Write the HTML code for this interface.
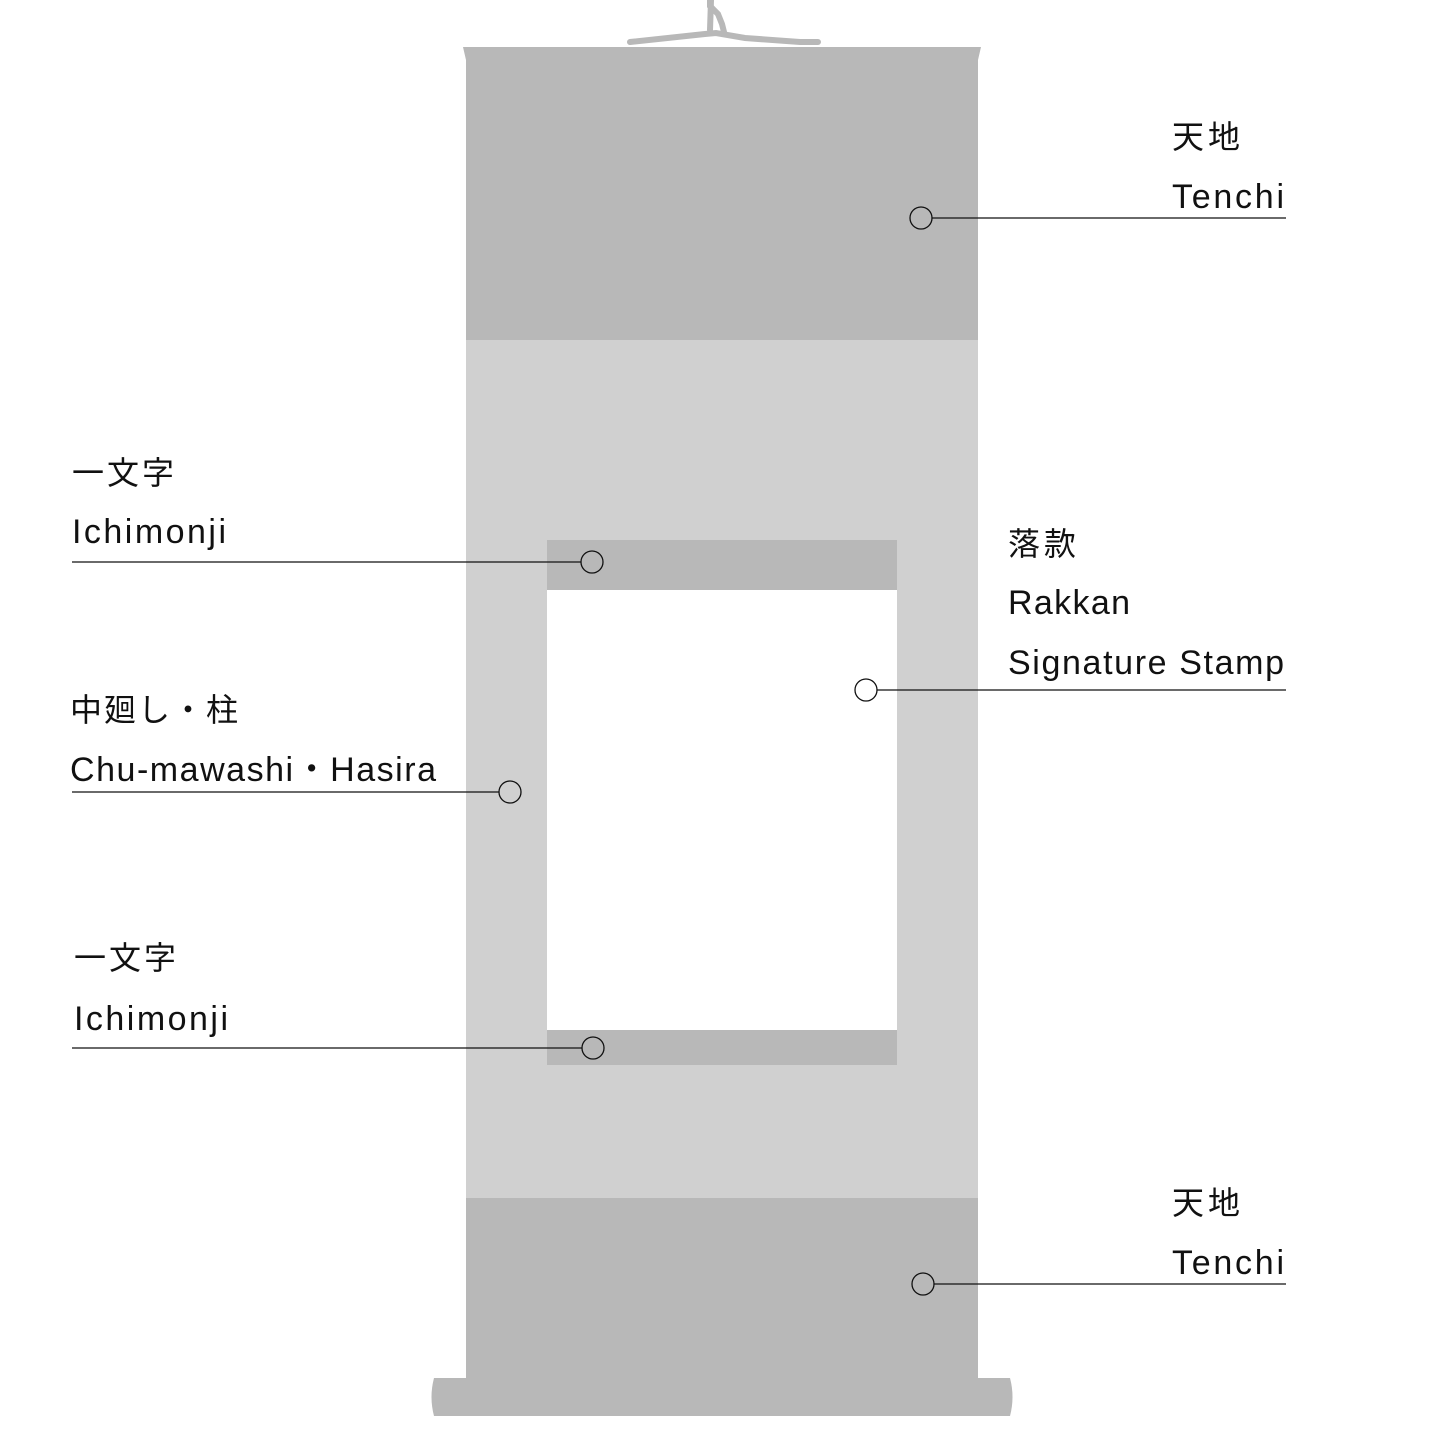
<!DOCTYPE html>
<html><head><meta charset="utf-8"><style>
html,body{margin:0;padding:0;background:#fff}
svg{display:block}
text{font-family:"Liberation Sans","Noto Sans CJK JP",sans-serif;fill:#111;font-size:34px}
.j{font-size:32px}
</style></head><body>
<svg width="1445" height="1445" viewBox="0 0 1445 1445">
<g fill="none" stroke="#b8b8b8" stroke-width="6" stroke-linecap="round">
<path d="M710 0 L710 6 L718 14 L722 24 L724 32"/>
<path d="M711 0 L710 30"/>
<path d="M630 42 L705 34 L716 33 L745 38 L800 42 L818 42"/>
</g>
<path d="M463 47 L981 47 L978 60 L978 340 L466 340 L466 60 Z" fill="#b8b8b8"/>
<rect x="466" y="340" width="512" height="858" fill="#d0d0d0"/>
<rect x="466" y="1198" width="512" height="182" fill="#b8b8b8"/>
<path d="M434 1378 L1010 1378 Q1015 1397 1010 1416 L434 1416 Q429 1397 434 1378 Z" fill="#b8b8b8"/>
<rect x="547" y="540" width="350" height="50" fill="#b8b8b8"/>
<rect x="547" y="590" width="350" height="440" fill="#fff"/>
<rect x="547" y="1030" width="350" height="35" fill="#b8b8b8"/>
<g stroke="#111" stroke-width="1.3" fill="none">
<line x1="932" y1="218" x2="1286" y2="218"/>
<line x1="72" y1="562" x2="581" y2="562"/>
<line x1="877" y1="690" x2="1286" y2="690"/>
<line x1="72" y1="792" x2="499" y2="792"/>
<line x1="72" y1="1048" x2="582" y2="1048"/>
<line x1="934" y1="1284" x2="1286" y2="1284"/>
<circle cx="921" cy="218" r="11"/>
<circle cx="592" cy="562" r="11"/>
<circle cx="866" cy="690" r="11"/>
<circle cx="510" cy="792" r="11"/>
<circle cx="593" cy="1048" r="11"/>
<circle cx="923" cy="1284" r="11"/>
</g>
<text class="j" x="1172" y="148" textLength="68">天地</text>
<text x="1172" y="208" textLength="112">Tenchi</text>
<text class="j" x="72" y="484" textLength="102">一文字</text>
<text x="72" y="543" textLength="154">Ichimonji</text>
<text class="j" x="1008" y="555" textLength="68">落款</text>
<text x="1008" y="614" textLength="122">Rakkan</text>
<text x="1008" y="674" textLength="276">Signature Stamp</text>
<text class="j" x="70" y="721" textLength="168">中廻し・柱</text>
<text x="70" y="781" textLength="366">Chu-mawashi・Hasira</text>
<text class="j" x="74" y="969" textLength="102">一文字</text>
<text x="74" y="1030" textLength="154">Ichimonji</text>
<text class="j" x="1172" y="1214" textLength="68">天地</text>
<text x="1172" y="1274" textLength="112">Tenchi</text>
</svg>
</body></html>
